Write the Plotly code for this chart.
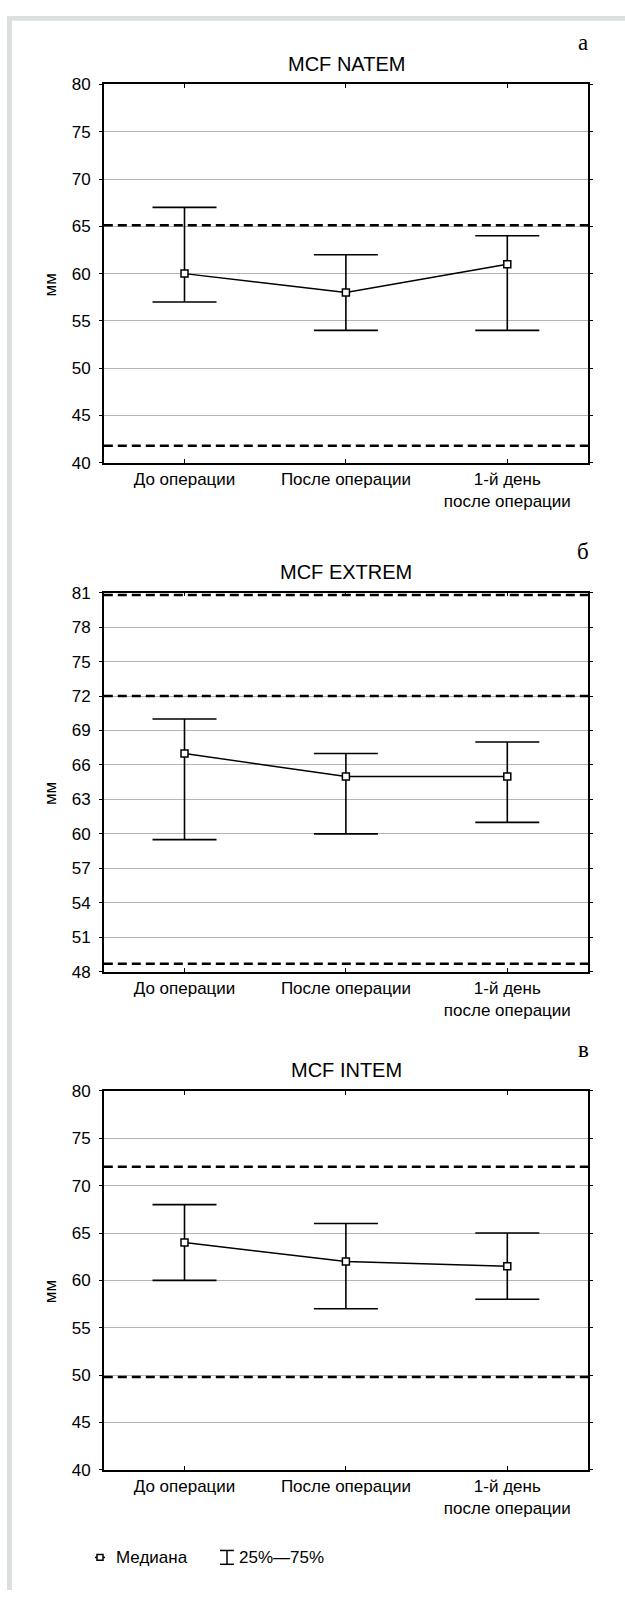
import plotly.graph_objects as go

W, H = 625, 1600

# ---------------- data ----------------
categories = ["До операции", "После операции", "1-й день<br>после операции"]
x_pos = [0, 1, 2]

natem_median = [60, 58, 61]
natem_q25 = [57, 54, 54]
natem_q75 = [67, 62, 64]
natem_ref = [65.1, 41.8]

extrem_median = [67, 65, 65]
extrem_q25 = [59.5, 60, 61]
extrem_q75 = [70, 67, 68]
extrem_ref = [80.8, 72, 48.7]

intem_median = [64, 62, 61.5]
intem_q25 = [60, 57, 58]
intem_q75 = [68, 66, 65]
intem_ref = [72, 49.8]

titles = ["MCF NATEM", "MCF EXTREM", "MCF INTEM"]
letters = ["а", "б", "в"]
y_title = "мм"
y_ticks_cfg = [(40, 80, 5), (48, 81, 3), (40, 80, 5)]
legend_median = "Медиана"
legend_iqr = "25%—75%"

# ---------------- layout / style ----------------
FONT = "Liberation Sans Narrow, Arial Narrow, Liberation Sans, Arial, sans-serif"
SERIF = "Liberation Serif, DejaVu Serif, serif"
TICK_SIZE = 17
panels_px = [(76.3, 459.3), (590.7, 974.3), (1095.0, 1478.3)]
x_dom = [103.8 / W, 588.0 / W]

def py(y):
    return 1 - y / H

def px(x):
    return x / W

fig = go.Figure()
series = [
    (natem_median, natem_q25, natem_q75, natem_ref),
    (extrem_median, extrem_q25, extrem_q75, extrem_ref),
    (intem_median, intem_q25, intem_q75, intem_ref),
]

shapes = []
annotations = []
layout_axes = {}

for i, ((med, q25, q75, refs), (top, bot)) in enumerate(zip(series, panels_px)):
    n = i + 1
    xs = "" if n == 1 else str(n)
    fig.add_trace(go.Scatter(
        x=x_pos, y=med, mode="lines+markers",
        xaxis="x" + xs, yaxis="y" + xs,
        line=dict(color="black", width=1.5),
        marker=dict(symbol="square", size=7, color="white",
                    line=dict(color="black", width=1.5)),
        error_y=dict(type="data", symmetric=False,
                     array=[b - a for a, b in zip(med, q75)],
                     arrayminus=[a - b for a, b in zip(med, q25)],
                     color="black", thickness=1.6, width=32),
        showlegend=False, hoverinfo="skip",
    ))
    lo, hi, dt = y_ticks_cfg[i]
    layout_axes["xaxis" + xs] = dict(
        domain=x_dom, range=[-0.5, 2.5], anchor="y" + xs,
        tickmode="array", tickvals=x_pos, ticktext=categories,
        ticks="inside", ticklen=4, tickwidth=1.2, tickcolor="black",
        showline=True, linecolor="black", linewidth=1.5, mirror="ticks",
        showgrid=False, zeroline=False,
        tickfont=dict(family=FONT, size=TICK_SIZE, color="black"),
    )
    layout_axes["yaxis" + xs] = dict(
        domain=[py(bot), py(top)], range=[lo, hi], anchor="x" + xs,
        tickmode="linear", tick0=lo, dtick=dt,
        ticks="outside", ticklen=3, tickwidth=1, tickcolor="black",
        ticklabelstandoff=5,
        showline=True, linecolor="black", linewidth=1.5, mirror="ticks",
        showgrid=True, gridcolor="#b5b5b5", gridwidth=1, zeroline=False,
        tickfont=dict(family=FONT, size=TICK_SIZE, color="black"),
    )
    for v in refs:
        shapes.append(dict(type="line", xref="x" + xs + " domain", x0=0, x1=1,
                           yref="y" + xs, y0=v, y1=v,
                           line=dict(color="black", width=2.5, dash="9px,5px")))
    annotations.append(dict(text=titles[i], xref="paper", yref="paper",
                            x=px(346), y=py(top - 21), showarrow=False,
                            xanchor="center", yanchor="middle",
                            font=dict(family=FONT, size=20, color="black")))
    annotations.append(dict(text=letters[i], xref="paper", yref="paper",
                            x=px(583), y=py(top - 42), showarrow=False,
                            xanchor="center", yanchor="middle",
                            font=dict(family=SERIF, size=23, color="black")))
    annotations.append(dict(text=y_title, xref="paper", yref="paper",
                            x=px(50), y=py((top + bot) / 2 + 12), showarrow=False,
                            textangle=-90, xanchor="center", yanchor="middle",
                            font=dict(family=FONT, size=TICK_SIZE, color="black")))

# page frame strips
GREY = "#dcdfe0"
shapes.append(dict(type="rect", xref="paper", yref="paper", layer="below",
                   x0=px(7), x1=1, y0=py(12), y1=py(7),
                   fillcolor=GREY, line=dict(width=0)))
shapes.append(dict(type="rect", xref="paper", yref="paper", layer="below",
                   x0=px(7), x1=px(12), y0=0, y1=py(7),
                   fillcolor=GREY, line=dict(width=0)))

# legend (drawn manually)
LY = 1567
shapes.append(dict(type="line", xref="paper", yref="paper",
                   x0=px(95), x1=px(105), y0=py(LY), y1=py(LY),
                   line=dict(color="black", width=1.5)))
shapes.append(dict(type="rect", xref="paper", yref="paper",
                   x0=px(97), x1=px(103), y0=py(LY + 3), y1=py(LY - 3),
                   fillcolor="white", line=dict(color="black", width=1.5)))
annotations.append(dict(text=legend_median, xref="paper", yref="paper",
                        x=px(114), y=py(LY), showarrow=False,
                        xanchor="left", yanchor="middle",
                        font=dict(family=FONT, size=TICK_SIZE, color="black")))
shapes.append(dict(type="line", xref="paper", yref="paper",
                   x0=px(227), x1=px(227), y0=py(LY + 7), y1=py(LY - 7),
                   line=dict(color="black", width=1.5)))
for yy in (LY - 7, LY + 7):
    shapes.append(dict(type="line", xref="paper", yref="paper",
                       x0=px(220), x1=px(234), y0=py(yy), y1=py(yy),
                       line=dict(color="black", width=1.5)))
annotations.append(dict(text=legend_iqr, xref="paper", yref="paper",
                        x=px(237), y=py(LY), showarrow=False,
                        xanchor="left", yanchor="middle",
                        font=dict(family=FONT, size=TICK_SIZE, color="black")))

fig.update_layout(
    width=W, height=H,
    margin=dict(l=0, r=0, t=0, b=0),
    paper_bgcolor="white", plot_bgcolor="white",
    showlegend=False,
    shapes=shapes, annotations=annotations,
    **layout_axes,
)

fig.write_html("out.html", post_script="document.body.style.margin='0';")
